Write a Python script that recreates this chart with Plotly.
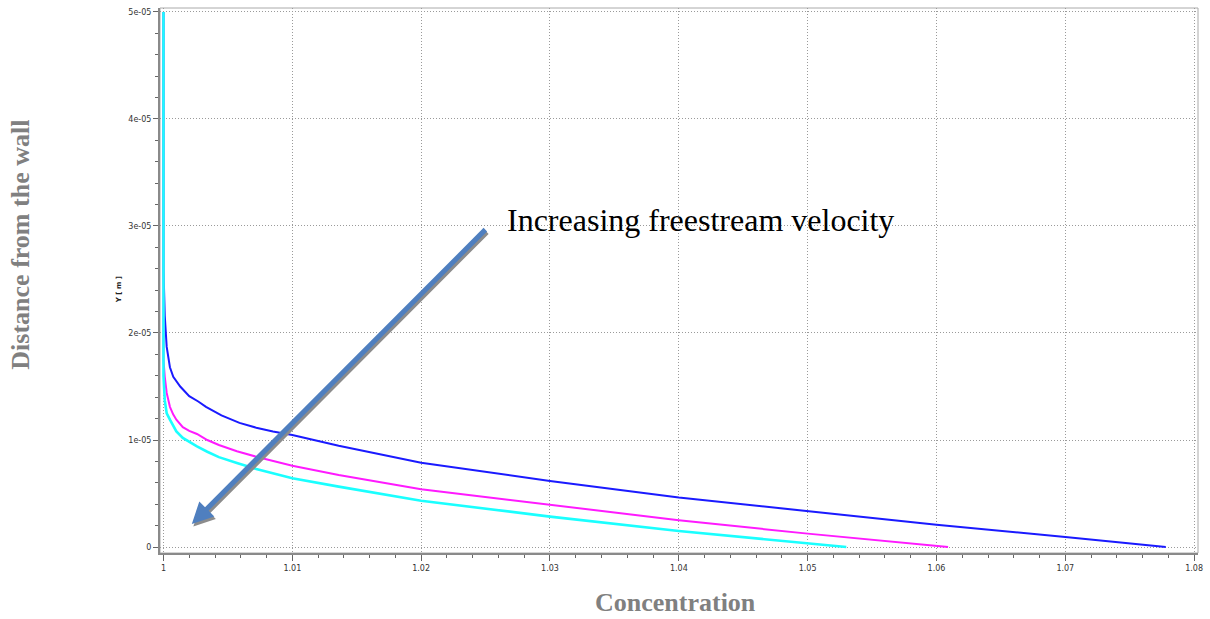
import plotly.graph_objects as go

# ---- data (y in metres) ----
blue_x = [1.0, 1.0, 1.0001, 1.00025, 1.0005, 1.00076, 1.0013, 1.002, 1.0027, 1.0033, 1.0045, 1.0059, 1.0072,
          1.0085, 1.01, 1.0136, 1.02, 1.03, 1.04, 1.05, 1.06, 1.07, 1.0778]
blue_y = [5.0e-5, 2.6e-5, 2.16e-5, 1.87e-5, 1.68e-5, 1.59e-5, 1.50e-5, 1.41e-5, 1.36e-5, 1.31e-5, 1.23e-5,
          1.16e-5, 1.115e-5, 1.08e-5, 1.047e-5, 0.947e-5, 0.788e-5, 0.617e-5, 0.462e-5, 0.334e-5, 0.209e-5,
          0.093e-5, 0.0]

mag_x = [1.0, 1.0, 1.0001, 1.00025, 1.0005, 1.00075, 1.001, 1.0015, 1.002, 1.0026, 1.0034, 1.0043, 1.0057,
         1.0072, 1.01, 1.0136, 1.02, 1.03, 1.04, 1.05, 1.0609]
mag_y = [5.0e-5, 1.75e-5, 1.59e-5, 1.44e-5, 1.31e-5, 1.24e-5, 1.19e-5, 1.12e-5, 1.085e-5, 1.056e-5, 1.0e-5,
         0.953e-5, 0.895e-5, 0.844e-5, 0.76e-5, 0.673e-5, 0.54e-5, 0.392e-5, 0.25e-5, 0.125e-5, 0.0]

cyan_x = [1.0, 1.0, 1.0001, 1.00025, 1.0005, 1.00075, 1.001, 1.0015, 1.002, 1.0026, 1.0034, 1.0043, 1.0057,
          1.0072, 1.01, 1.0136, 1.02, 1.03, 1.04, 1.05, 1.053]
cyan_y = [5.0e-5, 1.6e-5, 1.37e-5, 1.25e-5, 1.19e-5, 1.13e-5, 1.08e-5, 1.02e-5, 0.98e-5, 0.94e-5, 0.89e-5,
          0.84e-5, 0.785e-5, 0.73e-5, 0.642e-5, 0.564e-5, 0.433e-5, 0.284e-5, 0.15e-5, 0.031e-5, 0.0]

x_ticks = [1.0, 1.01, 1.02, 1.03, 1.04, 1.05, 1.06, 1.07, 1.08]
x_tick_labels = ["1", "1.01", "1.02", "1.03", "1.04", "1.05", "1.06", "1.07", "1.08"]
y_ticks = [0, 1e-5, 2e-5, 3e-5, 4e-5, 5e-5]
y_tick_labels = ["0", "1e-05", "2e-05", "3e-05", "4e-05", "5e-05"]

annotation_text = "Increasing freestream velocity"
arrow_head = (1.0022, 2.15e-6)
arrow_tail = (1.0251, 2.98e-5)

L, R, T, B = 160, 1203, 8, 553


def px(xp):
    return (xp - L) / (R - L)


def py(yp):
    return 1 - (yp - T) / (B - T)


fig = go.Figure()
for xs, ys, col, w in [(blue_x, blue_y, "#1a1aff", 2), (mag_x, mag_y, "#ff1aff", 2), (cyan_x, cyan_y, "#1affff", 2.6)]:
    fig.add_trace(go.Scatter(x=xs, y=ys, mode="lines", line=dict(color=col, width=w), showlegend=False,
                             hoverinfo="skip"))

tickfont = dict(family="DejaVu Sans", size=8, color="#333333")
grid = dict(showgrid=True, gridcolor="#9a9a9a", griddash="1px,2px", gridwidth=1, zeroline=False,
            showline=True, linecolor="#8a8a8a", linewidth=2, mirror=False, ticks="outside",
            tickcolor="#666666", tickfont=tickfont)
fig.update_xaxes(range=[0.99973, 1.0803], tickvals=x_ticks, ticktext=x_tick_labels, ticklen=6,
                 minor=dict(dtick=0.002, ticks="outside", ticklen=3, tickcolor="#666666", showgrid=False),
                 **grid)
fig.update_yaxes(range=[-5.6e-7, 5.037e-5], tickvals=y_ticks, ticktext=y_tick_labels, ticklen=5,
                 minor=dict(dtick=2e-6, ticks="outside", ticklen=3, tickcolor="#666666", showgrid=False),
                 **grid)

# frame top/right
fig.add_shape(type="rect", xref="paper", yref="paper", x0=0, y0=0, x1=1, y1=1,
              line=dict(color="#aaaaaa", width=1), layer="below")

# arrow shadow and arrow
fig.add_annotation(x=arrow_head[0], y=arrow_head[1], ax=arrow_tail[0], ay=arrow_tail[1],
                   xref="x", yref="y", axref="x", ayref="y", xshift=1.5, yshift=-2.5,
                   showarrow=True, arrowhead=2, arrowsize=0.85, arrowwidth=5, arrowcolor="#8c8c8c", text="")
fig.add_annotation(x=arrow_head[0], y=arrow_head[1], ax=arrow_tail[0], ay=arrow_tail[1],
                   xref="x", yref="y", axref="x", ayref="y",
                   showarrow=True, arrowhead=2, arrowsize=0.85, arrowwidth=5, arrowcolor="#4f7fbf", text="")

fig.add_annotation(text=annotation_text, xref="paper", yref="paper", x=px(507), y=py(220),
                   showarrow=False, xanchor="left", yanchor="middle",
                   font=dict(family="Liberation Serif", size=32, color="#000000"))

# axis titles
fig.add_annotation(text="<b>Distance from the wall</b>", xref="paper", yref="paper",
                   x=px(20), y=py(245), textangle=-90,
                   showarrow=False, xanchor="center", yanchor="middle",
                   font=dict(family="Liberation Serif", size=26, color="#808080"))
fig.add_annotation(text="<b>Concentration</b>", xref="paper", yref="paper",
                   x=px(678), y=py(603),
                   showarrow=False, xanchor="center", yanchor="middle",
                   font=dict(family="Liberation Serif", size=26, color="#808080"))
fig.add_annotation(text="<b>Y [ m ]</b>", xref="paper", yref="paper",
                   x=px(119), y=py(290), textangle=-90,
                   showarrow=False, xanchor="center", yanchor="middle",
                   font=dict(family="DejaVu Sans", size=7, color="#222222"))

fig.update_layout(width=1210, height=619, margin=dict(l=L, r=1210 - R, t=T, b=619 - B),
                  paper_bgcolor="white", plot_bgcolor="white")
fig.write_html("out.html")
